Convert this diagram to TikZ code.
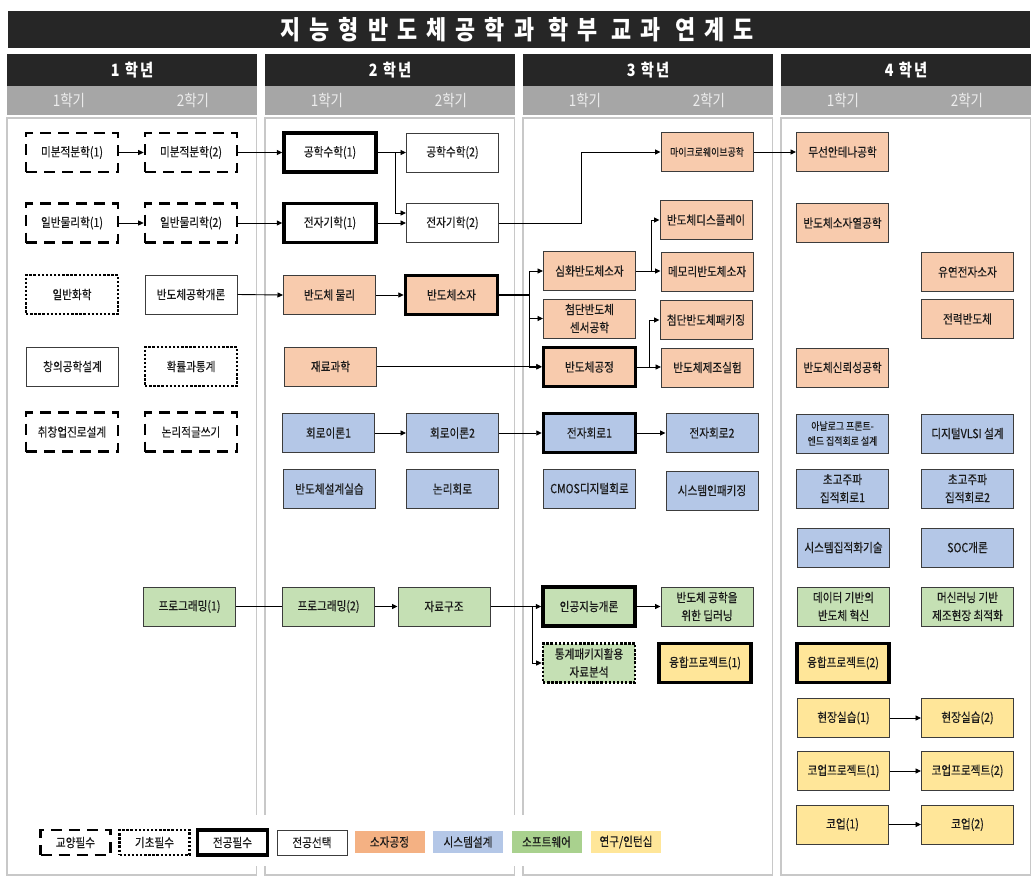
\documentclass[tikz,border=0pt]{standalone}
\usepackage{fontspec}
\setmainfont{Noto Sans CJK KR}[FakeStretch=0.85,FakeBold=0.35]
\newfontfamily\headfont{Noto Sans CJK KR}[FakeStretch=0.84]
\usetikzlibrary{arrows.meta,calc}

\definecolor{ink}{HTML}{1A1A1A}
\definecolor{barblack}{HTML}{262626}
\definecolor{semgray}{HTML}{A6A6A6}
\definecolor{semtext}{HTML}{EDEDED}
\definecolor{panelline}{HTML}{C8C8C8}
\definecolor{edge}{HTML}{3C3C3C}
\definecolor{devfill}{HTML}{F8CBAD}
\definecolor{sysfill}{HTML}{B4C7E7}
\definecolor{swfill}{HTML}{C5E0B4}
\definecolor{resfill}{HTML}{FFE699}
\definecolor{devkey}{HTML}{F4B183}
\definecolor{swkey}{HTML}{A9D18E}

\begin{document}
\begin{tikzpicture}[x=1pt,y=-1pt,
  cbox/.style={rectangle, minimum width=92pt, minimum height=39pt, inner sep=1pt,
    align=center, text=ink, font=\fontsize{12.5}{18}\selectfont},
  selbox/.style={cbox, draw=edge, line width=1pt},
  reqbox/.style={cbox, draw=black, line width=3.5pt},
  genbox/.style={cbox, draw=black, line width=2.6pt, dash pattern=on 11pt off 7pt},
  basbox/.style={cbox, draw=black, line width=2.6pt, dash pattern=on 2.4pt off 1.7pt},
  devf/.style={fill=devfill},
  sysf/.style={fill=sysfill},
  swf/.style={fill=swfill},
  resf/.style={fill=resfill},
  small/.style={font=\fontsize{10.5}{15}\selectfont},
  keybox/.style={rectangle, minimum width=70pt, minimum height=25pt, inner sep=1pt,
    text=ink, font=\fontsize{12.5}{14}\selectfont},
  link/.style={draw=black, line width=0.9pt},
  arr/.style={link, -{Triangle[length=5.5pt,width=5pt]}},
]
\useasboundingbox (0,0) rectangle (1032,883);

% title bar
\fill[barblack] (8,11) rectangle (1030,48);
\node[text=white, font=\headfont\bfseries\fontsize{26}{28}\selectfont\addfontfeature{LetterSpace=35}]
  (title) at (517,29.5) {지능형반도체공학과 학부 교과 연계도};

% year columns: header, semester strip and panel
\foreach \L/\n in {7/1,265/2,523/3,781/4}{
  \fill[barblack] (\L,54) rectangle ++(249.5,32);
  \fill[semgray] (\L,86) rectangle ++(249.5,29);
  \node[text=white, font=\headfont\bfseries\fontsize{17}{20}\selectfont\addfontfeature{LetterSpace=12}]
    (yr\n) at (\L+125,70.5) {\n\ 학년};
  \node[text=semtext, font=\headfont\fontsize{16}{18}\selectfont] (sa\n) at (\L+62,100.5) {1학기};
  \node[text=semtext, font=\headfont\fontsize{16}{18}\selectfont] (sb\n) at (\L+186,100.5) {2학기};
  \draw[panelline, line width=1.2pt] (\L,118) rectangle ++(249.5,757);
}

% ---- 1st year
\node[genbox] (m1) at (72,152.5) {미분적분학(1)};
\node[genbox] (m2) at (191,152.5) {미분적분학(2)};
\node[genbox] (p1) at (72,223) {일반물리학(1)};
\node[genbox] (p2) at (191,223) {일반물리학(2)};
\node[basbox] (chem) at (72,294.5) {일반화학};
\node[selbox] (intro) at (191,294.5) {반도체공학개론};
\node[selbox] (creat) at (72.5,366.5) {창의공학설계};
\node[basbox] (prob) at (191,366.5) {확률과통계};
\node[genbox] (career) at (72,432) {취창업진로설계};
\node[genbox] (write) at (191,432) {논리적글쓰기};
\node[selbox, swf] (prog1) at (189.5,606.5) {프로그래밍(1)};

% ---- 2nd year
\node[reqbox] (em1) at (330,152.5) {공학수학(1)};
\node[selbox] (em2) at (452.5,152.5) {공학수학(2)};
\node[reqbox] (emg1) at (330,223) {전자기학(1)};
\node[selbox] (emg2) at (452.5,223) {전자기학(2)};
\node[selbox, devf] (sphys) at (329.5,295) {반도체 물리};
\node[reqbox, devf] (sdev) at (451.5,295) {반도체소자};
\node[selbox, devf] (mat) at (330.5,366.5) {재료과학};
\node[selbox, sysf] (ct1) at (328.5,433) {회로이론1};
\node[selbox, sysf] (ct2) at (452.5,433) {회로이론2};
\node[selbox, sysf] (sdp) at (329.5,489) {반도체설계실습};
\node[selbox, sysf] (logic) at (452.5,489) {논리회로};
\node[selbox, swf] (prog2) at (328.5,606.5) {프로그래밍(2)};
\node[selbox, swf] (ds) at (444,606.5) {자료구조};

% ---- 3rd year
\node[selbox, devf, small] (mw) at (707,152) {마이크로웨이브공학};
\node[selbox, devf] (disp) at (706,220) {반도체디스플레이};
\node[selbox, devf] (adv) at (589.5,271) {심화반도체소자};
\node[selbox, devf] (mem) at (707,271.5) {메모리반도체소자};
\node[selbox, devf] (sensor) at (589.5,318.5) {첨단반도체\\센서공학};
\node[selbox, devf] (pkg) at (706,320) {첨단반도체패키징};
\node[reqbox, devf] (proc) at (589.5,367) {반도체공정};
\node[selbox, devf] (fab) at (707.5,367.5) {반도체제조실험};
\node[reqbox, sysf] (ec1) at (589.5,433) {전자회로1};
\node[selbox, sysf] (ec2) at (712,433) {전자회로2};
\node[selbox, sysf] (cmos) at (589.5,488.5) {CMOS디지털회로};
\node[selbox, sysf] (sip) at (712,490.5) {시스템인패키징};
\node[reqbox, swf] (ai) at (589,606.5) {인공지능개론};
\node[selbox, swf] (dl) at (707,606.5) {반도체 공학을\\위한 딥러닝};
\node[basbox, swf] (stat) at (589,663) {통계패키지활용\\자료분석};
\node[reqbox, resf] (fp1) at (705,663) {융합프로젝트(1)};

% ---- 4th year
\node[selbox, devf] (ant) at (842.5,152) {무선안테나공학};
\node[selbox, devf] (therm) at (842.5,223) {반도체소자열공학};
\node[selbox, devf] (flex) at (967.5,272) {유연전자소자};
\node[selbox, devf] (power) at (967.5,319) {전력반도체};
\node[selbox, devf] (rel) at (842.5,367.5) {반도체신뢰성공학};
\node[selbox, sysf, small] (afe) at (842.5,433.5) {아날로그 프론트-\\엔드 집적회로 설계};
\node[selbox, sysf] (vlsi) at (967.5,433.5) {디지털VLSI 설계};
\node[selbox, sysf] (rf1) at (842.5,488.5) {초고주파\\집적회로1};
\node[selbox, sysf] (rf2) at (967.5,488.5) {초고주파\\집적회로2};
\node[selbox, sysf] (soi) at (843.5,547.5) {시스템집적화기술};
\node[selbox, sysf] (soc) at (967.5,547.5) {SOC개론};
\node[selbox, swf] (data) at (843.5,606.5) {데이터 기반의\\반도체 혁신};
\node[selbox, swf] (ml) at (967.5,606.5) {머신러닝 기반\\제조현장 최적화};
\node[reqbox, resf] (fp2) at (843,663) {융합프로젝트(2)};
\node[selbox, resf] (ip1) at (843.5,718) {현장실습(1)};
\node[selbox, resf] (ip2) at (967.5,718) {현장실습(2)};
\node[selbox, resf] (cp1) at (843.5,771) {코업프로젝트(1)};
\node[selbox, resf] (cp2) at (967.5,771) {코업프로젝트(2)};
\node[selbox, resf] (co1) at (842.5,824.5) {코업(1)};
\node[selbox, resf] (co2) at (967.5,824.5) {코업(2)};

% ---- prerequisite links
\draw[arr] (m1.east) -- (m2.west);
\draw[arr] (m2.east) -- (em1.west);
\draw[arr] (p1.east) -- (p2.west);
\draw[arr] (p2.east) -- (emg1.west);
\draw[arr] (intro.east) -- (sphys.west);

\coordinate (jm) at (395,152.5);
\draw[arr] (em1.east) -- (em2.west);
\draw[arr] (jm) |- ([yshift=10pt]emg2.west);
\draw[arr] (emg1.east) -- (emg2.west);
\draw[arr] (emg2.east) -- ++(82,0) |- (mw.west);
\draw[arr] (mw.east) -- (ant.west);

\draw[arr] (sphys.east) -- (sdev.west);
\coordinate (js) at (529,295);
\draw[link, line width=1.8pt] (sdev.east) -- (js);
\draw[arr] (js) |- (adv.west);
\draw[arr] (js) |- (sensor.west);
\draw[arr] (js) |- (proc.west);
\draw[arr] (mat.east) -- (mat.east -| proc.west);

\coordinate (ja) at (651,271);
\draw[link] (adv.east) -- (ja);
\draw[arr] (ja) -- (ja -| mem.west);
\draw[arr] (ja) |- (disp.west);
\coordinate (jp) at (649,367);
\draw[link] (proc.east) -- (jp);
\draw[arr] (jp) -- (jp -| fab.west);
\draw[arr] (jp) |- (pkg.west);

\draw[arr] (ct1.east) -- (ct2.west);
\draw[arr] (ct2.east) -- (ec1.west);
\draw[arr] (ec1.east) -- (ec2.west);

\draw[link] (prog1.east) -- (prog2.west);
\draw[arr] (prog2.east) -- (ds.west);
\draw[arr] (ds.east) -- (ai.west);
\coordinate (jd) at (532,606.5);
\draw[arr] (jd) |- (stat.west);
\draw[arr] (ai.east) -- (dl.west);

\draw[arr] (ip1.east) -- (ip2.west);
\draw[arr] (cp1.east) -- (cp2.west);
\draw[arr] (co1.east) -- (co2.west);

% ---- legend
\fill[white] (30,815) rectangle (672,866);
\node[keybox, draw=black, line width=2.6pt, dash pattern=on 11pt off 7pt] (k1) at (75.5,842.5) {교양필수};
\node[keybox, draw=black, line width=2.6pt, dash pattern=on 2.4pt off 1.7pt] (k2) at (154.5,842.5) {기초필수};
\node[keybox, draw=black, line width=3.2pt] (k3) at (232.5,842.5) {전공필수};
\node[keybox, draw=edge, line width=1pt] (k4) at (312,842.5) {전공선택};
\node[keybox, fill=devkey, minimum height=22pt] (k5) at (389.5,842) {소자공정};
\node[keybox, fill=sysfill, minimum height=22pt] (k6) at (468,842) {시스템설계};
\node[keybox, fill=swkey, minimum height=22pt] (k7) at (546.5,842) {소프트웨어};
\node[keybox, fill=resfill, minimum height=22pt] (k8) at (626,842) {연구/인턴십};
\end{tikzpicture}
\end{document}
